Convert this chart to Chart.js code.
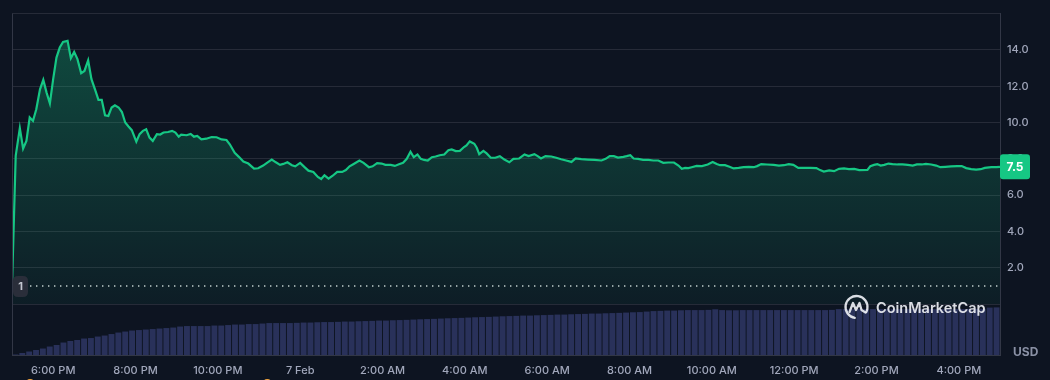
<!DOCTYPE html>
<html><head><meta charset="utf-8">
<script src="https://cdn.jsdelivr.net/npm/chart.js@4/dist/chart.umd.min.js"></script>
<style>
html,body{margin:0;padding:0;background:#0d1421;}
#wrap{width:1050px;height:380px;position:relative;}
</style></head><body>
<div id="wrap"><canvas id="c" width="1050" height="380"></canvas></div>
<script>
// hours since 5:00 PM (6 Feb)
const priceTimes = [
0.00,0.09,0.19,0.27,0.35,0.43,0.51,0.59,0.68,0.76,0.84,0.92,1.00,1.08,1.16,1.24,1.35,1.43,1.51,1.59,1.68,1.76,1.85,1.93,2.02,2.10,2.18,2.26,2.34,2.42,2.50,2.59,2.67,2.75,2.83,2.91,3.02,3.10,3.18,3.26,3.34,3.42,3.52,3.60,3.68,3.79,3.89,3.97,4.05,
4.11,4.24,4.34,4.42,4.50,4.60,4.72,4.85,4.97,5.09,5.21,5.29,5.41,5.51,5.62,5.74,5.88,5.98,6.10,6.21,6.31,6.41,6.51,6.59,6.69,6.80,6.88,7.00,7.10,7.20,7.32,7.43,7.51,7.59,7.69,7.79,7.90,8.02,8.11,
8.20,8.30,8.44,8.54,8.67,8.76,8.87,8.98,9.07,9.20,9.30,9.40,9.50,9.59,9.68,9.76,9.85,9.93,10.01,10.10,10.20,10.29,10.39,10.50,10.60,10.68,10.78,10.88,10.98,11.04,11.12,11.23,11.29,11.35,11.45,11.53,11.63,11.74,11.85,11.96,12.08,12.18,12.32,
12.45,12.55,12.69,12.77,12.85,12.96,13.10,13.22,13.34,13.46,13.59,13.69,13.83,13.99,14.15,14.32,14.42,14.52,14.62,14.72,14.85,14.93,15.02,15.10,15.21,15.33,15.46,15.58,15.70,15.82,15.94,16.08,16.19,16.27,16.35,16.43,
16.51,16.63,16.76,16.90,17.02,17.12,17.20,17.32,17.43,17.53,17.65,17.77,17.90,18.02,18.10,18.20,18.34,18.50,18.63,18.75,18.87,18.98,19.10,19.24,19.40,19.54,19.63,19.72,19.85,19.97,20.09,20.21,20.33,20.46,20.58,
20.78,20.85,20.94,21.02,21.10,21.19,21.29,21.39,21.51,21.63,21.76,21.88,21.98,22.10,22.20,22.33,22.45,22.55,22.67,22.81,22.96,23.07,23.18,23.30,23.42,23.53,23.63,23.79,23.91,24.00
];
const priceValues = [
1.0,8.16,9.69,8.57,8.99,10.28,10.09,10.73,11.83,12.35,11.65,11.06,12.39,13.58,14.13,14.44,14.50,13.54,13.89,13.49,12.72,12.84,13.43,12.39,11.80,11.25,11.25,10.40,10.36,10.83,10.95,10.83,10.58,10.0,9.78,9.58,8.95,9.36,9.54,9.63,9.17,8.99,9.36,9.34,9.45,9.48,9.54,9.45,9.22,
9.33,9.30,9.37,9.22,9.26,9.07,9.11,9.20,9.19,9.07,9.04,8.80,8.33,8.11,7.85,7.74,7.46,7.48,7.63,7.81,7.96,7.81,7.67,7.72,7.81,7.65,7.59,7.78,7.56,7.35,7.28,7.00,6.89,7.09,6.91,7.07,7.28,7.28,7.38,
7.59,7.72,7.91,7.78,7.54,7.59,7.76,7.74,7.67,7.67,7.61,7.70,7.78,8.00,8.39,8.09,8.24,8.00,7.94,7.91,8.09,8.13,8.20,8.24,8.48,8.52,8.43,8.44,8.65,8.74,8.96,8.83,8.61,8.26,8.44,8.30,8.06,8.06,8.15,7.96,7.81,8.00,8.02,
8.24,8.15,8.26,8.15,8.02,8.15,8.13,8.06,7.98,7.91,7.83,8.02,7.98,7.96,7.94,7.91,8.00,8.15,8.15,8.07,8.11,8.15,8.20,8.02,8.00,7.94,7.94,7.91,7.91,7.78,7.80,7.80,7.63,7.45,7.50,7.49,
7.54,7.61,7.60,7.69,7.83,7.72,7.65,7.65,7.56,7.47,7.50,7.54,7.56,7.54,7.60,7.71,7.69,7.67,7.63,7.65,7.71,7.67,7.50,7.50,7.50,7.49,7.38,7.30,7.36,7.32,7.45,7.47,7.43,7.45,7.38,
7.39,7.60,7.67,7.71,7.63,7.67,7.74,7.71,7.69,7.69,7.67,7.63,7.69,7.69,7.72,7.69,7.63,7.54,7.56,7.58,7.60,7.60,7.49,7.43,7.41,7.43,7.50,7.54,7.54,7.56
];
// 10-minute volume bars (millions USD)
const volumeValues = [
0.05,0.2,0.35,0.5,0.65,0.85,1.0,1.25,1.4,1.5,
1.65,1.7,1.85,1.95,2.1,2.25,2.35,2.45,2.5,2.55,
2.6,2.65,2.7,2.75,2.85,2.9,2.9,2.9,2.9,2.95,
2.95,3.0,3.05,3.05,3.1,3.1,3.15,3.2,3.2,3.2,
3.2,3.22,3.25,3.25,3.28,3.3,3.3,3.32,3.35,3.35,
3.38,3.4,3.42,3.45,3.45,3.48,3.5,3.52,3.55,3.58,
3.6,3.62,3.65,3.68,3.7,3.72,3.75,3.78,3.8,3.82,
3.85,3.88,3.9,3.92,3.95,3.95,3.98,4.0,4.02,4.05,
4.05,4.08,4.1,4.12,4.15,4.15,4.18,4.2,4.22,4.25,
4.28,4.3,4.35,4.4,4.42,4.45,4.45,4.48,4.5,4.5,
4.5,4.52,4.58,4.5,4.48,4.48,4.5,4.5,4.5,4.5,
4.5,4.5,4.5,4.5,4.5,4.5,4.5,4.5,4.5,4.52,
4.6,4.6,4.6,4.6,4.6,4.6,4.6,4.6,4.6,4.6,
4.6,4.6,4.6,4.6,4.6,4.6,4.6,4.6,4.6,4.62,
4.62,4.62,4.75,4.77
];
const volumeIntervalHours = 1/6;
const xTickHours = [1,3,5,7,9,11,13,15,17,19,21,23];
const xTickLabels = ['6:00 PM','8:00 PM','10:00 PM','7 Feb','2:00 AM','4:00 AM','6:00 AM','8:00 AM','10:00 AM','12:00 PM','2:00 PM','4:00 PM'];
const yTickValues = [0,2,4,6,8,10,12,14,16];
const openPrice = 1;
const lastPriceLabel = '7.5';
const eventHours = [0.44, 6.2];
const currencyLabel = 'USD';
const watermarkText = 'CoinMarketCap';

const FONT = 'Inter, "Noto Sans", sans-serif';
const GREEN = '#16c784';

const priceData = priceTimes.map((t,i)=>({x:t,y:priceValues[i]}));
const volumeData = volumeValues.map((v,i)=>({x:(i+0.5)*volumeIntervalHours,y:v}));
const openLine = [{x:0,y:openPrice},{x:24,y:openPrice}];

function rr(ctx,x,y,w,h,r){ctx.beginPath();ctx.moveTo(x+r,y);ctx.lineTo(x+w-r,y);ctx.quadraticCurveTo(x+w,y,x+w,y+r);ctx.lineTo(x+w,y+h-r);ctx.quadraticCurveTo(x+w,y+h,x+w-r,y+h);ctx.lineTo(x+r,y+h);ctx.quadraticCurveTo(x,y+h,x,y+h-r);ctx.lineTo(x,y+r);ctx.quadraticCurveTo(x,y,x+r,y);ctx.closePath();}

const decor = {
  id:'decor',
  beforeDraw(chart){
    const c=chart.ctx; c.save(); c.fillStyle='#0d1421'; c.fillRect(0,0,chart.width,chart.height); c.restore();
  },
  afterDraw(chart){
    const c=chart.ctx, a=chart.chartArea, ys=chart.scales.y, xs=chart.scales.x;
    c.save();
    // left border
    c.strokeStyle='#323746'; c.lineWidth=1;
    c.beginPath(); c.moveTo(a.left+0.5,a.top); c.lineTo(a.left+0.5,a.bottom); c.stroke();
    // watermark logo
    const cx=856.5, cy=307;
    c.strokeStyle='rgba(236,238,243,0.92)'; c.lineWidth=2.3; c.lineCap='round'; c.lineJoin='round';
    c.beginPath(); c.arc(cx,cy,11,0.55*Math.PI,0.15*Math.PI); c.stroke();
    c.beginPath(); c.moveTo(cx-7,cy+5); c.lineTo(cx-3.5,cy-4); c.lineTo(cx-0.5,cy+3); c.lineTo(cx+3,cy-4); c.lineTo(cx+5,cy+3); c.lineTo(cx+9,cy+5.5); c.stroke();
    c.fillStyle='rgba(236,238,243,0.92)'; c.font='600 14.5px '+FONT; c.textBaseline='alphabetic'; c.textAlign='left';
    c.fillText(watermarkText,876,313);
    // open price badge
    const yo=ys.getPixelForValue(openPrice);
    c.fillStyle='#2a2e3a'; rr(c,a.left+1,yo-10,15,21,5); c.fill();
    c.fillStyle='#c3c7d0'; c.font='bold 11px '+FONT; c.textAlign='center'; c.textBaseline='middle';
    c.fillText(String(openPrice),a.left+8.5,yo+1);
    // last price badge
    const yl=ys.getPixelForValue(priceValues[priceValues.length-1]);
    c.fillStyle=GREEN; rr(c,a.right,yl-12.5,30,25,3); c.fill();
    c.fillStyle='#ffffff'; c.font='bold 12px '+FONT; c.textAlign='center'; c.textBaseline='middle';
    c.fillText(lastPriceLabel,a.right+15,yl+0.5);
    // currency
    c.fillStyle='#8a91a5'; c.font='bold 12px '+FONT; c.textAlign='left'; c.textBaseline='middle';
    c.fillText(currencyLabel,1013,352);
    // event markers
    c.fillStyle='#f3a73f';
    eventHours.forEach(h=>{const px=xs.getPixelForValue(h); c.beginPath(); c.arc(px,383,4,0,Math.PI*2); c.fill();});
    c.restore();
  }
};

new Chart(document.getElementById('c'),{
  type:'line',
  data:{datasets:[
    {type:'line',data:openLine,yAxisID:'y',borderColor:'rgba(255,255,255,0.8)',borderWidth:1.4,borderDash:[1.4,4.6],pointRadius:0,fill:false,order:3},
    {type:'line',data:priceData,yAxisID:'y',borderColor:GREEN,borderWidth:2.2,pointRadius:0,tension:0,fill:'start',order:1,
      backgroundColor:(ctx)=>{const ch=ctx.chart; const ys=ch.scales.y; if(!ys||!ch.chartArea) return 'rgba(22,199,132,0.15)';
        const g=ch.ctx.createLinearGradient(0,ys.top,0,ys.bottom); g.addColorStop(0,'rgba(22,199,132,0.32)'); g.addColorStop(1,'rgba(22,199,132,0.05)'); return g;}},
    {type:'bar',data:volumeData,yAxisID:'yv',backgroundColor:'#29315a',borderWidth:0,barPercentage:0.86,categoryPercentage:1,order:2}
  ]},
  options:{
    responsive:false,animation:false,
    layout:{padding:{left:12,top:13,right:0,bottom:0}},
    plugins:{legend:{display:false},tooltip:{enabled:false}},
    scales:{
      x:{type:'linear',min:0,max:24,offset:false,
        afterBuildTicks:s=>{s.ticks=xTickHours.map(v=>({value:v}));},
        afterFit:s=>{s.height=25;},
        grid:{display:false,drawTicks:false,offset:false},border:{display:true,color:'#323746'},
        ticks:{color:'#a1a7bb',font:{family:FONT,size:11,weight:'500'},padding:9,maxRotation:0,autoSkip:false,
          callback:(v)=>xTickLabels[xTickHours.indexOf(v)]}},
      y:{type:'linear',position:'right',stack:'p',stackWeight:291,min:0,max:16,
        afterBuildTicks:s=>{s.ticks=yTickValues.map(v=>({value:v}));},
        afterFit:s=>{s.width=50;},
        grid:{color:'#262b38',drawTicks:false},border:{display:true,color:'#323746'},
        ticks:{color:'#a1a7bb',font:{family:FONT,size:11,weight:'500'},padding:7,
          callback:(v)=>(v===0||v===16)?'':Number(v).toFixed(1)}},
      yv:{type:'linear',position:'right',stack:'p',stackWeight:51,min:0,max:5.1,
        afterFit:s=>{s.width=50;},
        grid:{display:false},border:{display:true,color:'#323746'},ticks:{display:false}}
    }
  },
  plugins:[decor]
});
</script>
</body></html>
